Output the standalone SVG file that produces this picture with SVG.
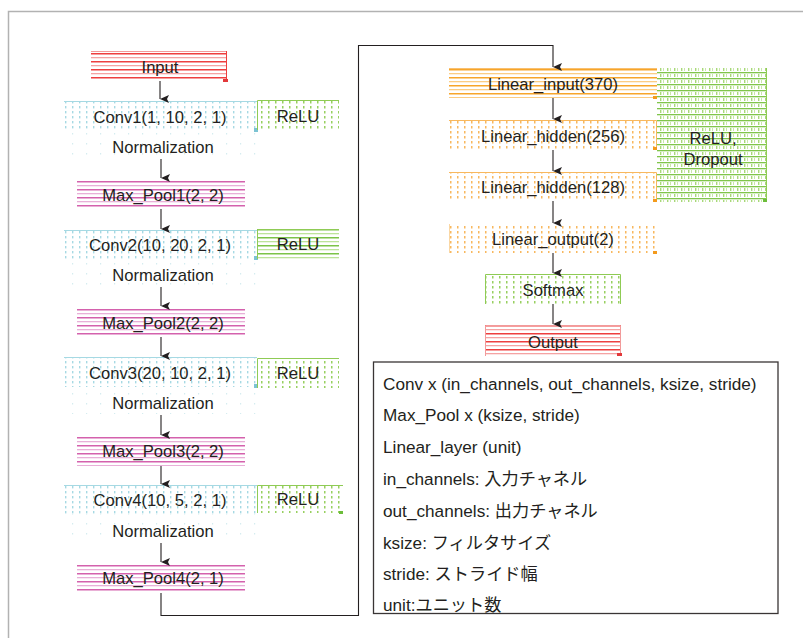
<svg xmlns="http://www.w3.org/2000/svg" width="803" height="638" viewBox="0 0 803 638">
<style>
text{font-family:"Liberation Sans","Noto Sans CJK JP",sans-serif;font-size:16.6px;fill:#231f20}
.c{text-anchor:middle}
.lg{font-size:17.2px}
.conn{fill:none;stroke:#231f20;stroke-width:1.1}
</style>
<defs>
<marker id="ah" markerUnits="userSpaceOnUse" markerWidth="8" markerHeight="9" refX="4" refY="9" orient="auto" viewBox="0 0 8 9">
<path d="M0,0 L4,2 L8,0 L4,9 z" fill="#231f20"/>
</marker>
<pattern id="pRed" width="6" height="8" patternUnits="userSpaceOnUse">
<rect y="1" width="6" height="1.3" fill="#f5a3a3"/>
<rect y="5" width="6" height="1.5" fill="#ee3e3e"/>
</pattern>
<pattern id="pMag" width="6" height="8" patternUnits="userSpaceOnUse">
<rect y="1" width="6" height="1.3" fill="#e8b0d8"/>
<rect y="5" width="6" height="1.5" fill="#d461ad"/>
</pattern>
<pattern id="pOrS" width="6" height="8" patternUnits="userSpaceOnUse">
<rect y="1" width="6" height="1.3" fill="#fbcd85"/>
<rect y="5" width="6" height="1.5" fill="#f7a52a"/>
</pattern>
<pattern id="pGrS" width="6" height="8" patternUnits="userSpaceOnUse">
<rect y="1" width="6" height="1.3" fill="#bde39a"/>
<rect y="5" width="6" height="1.5" fill="#7cc348"/>
</pattern>
<pattern id="pBlueD" width="7" height="5" patternUnits="userSpaceOnUse">
<rect x="2" y="1" width="1.4" height="2.4" fill="#a6d9e3"/>
</pattern>
<pattern id="pFaint" width="14" height="10" patternUnits="userSpaceOnUse">
<rect x="2" y="3" width="1.2" height="1.5" fill="#d5ecf0"/>
</pattern>
<pattern id="pGrD" width="7" height="5" patternUnits="userSpaceOnUse">
<rect x="2" y="1" width="1.5" height="2.5" fill="#98d060"/>
</pattern>
<pattern id="pOrD" width="7" height="5" patternUnits="userSpaceOnUse">
<rect x="2" y="1" width="1.5" height="2.5" fill="#f8b85e"/>
</pattern>
<pattern id="pGrid" width="7" height="6" patternUnits="userSpaceOnUse">
<rect y="0" width="7" height="1.3" fill="#80c54a"/>
<rect x="2" y="2" width="1.4" height="3" fill="#a8d878"/>
<rect x="5" y="2" width="1" height="3" fill="#c8e8a8"/>
</pattern>
</defs>

<rect x="8.5" y="11.5" width="900" height="700" fill="#fff" stroke="#b2b2b2" stroke-width="1.5"/>

<g id="input">
<rect x="91" y="51" width="136" height="30" fill="url(#pRed)"/>
<line x1="91" y1="51.5" x2="227" y2="51.5" stroke="#f29a9a"/>
<line x1="226.5" y1="51" x2="226.5" y2="81" stroke="#ee3e3e"/>
<rect x="223" y="79" width="5" height="3" fill="#e2383a"/>
<text class="c" x="160" y="72.5">Input</text>
</g>

<g id="conv1">
<rect x="64" y="101" width="193" height="30" fill="url(#pBlueD)"/>
<line x1="64" y1="101.5" x2="257" y2="101.5" stroke="#a6d9e3"/>
<rect x="254" y="128" width="4" height="4" fill="#7cc3d3"/>
<text class="c" x="160" y="122.5">Conv1(1, 10, 2, 1)</text>
</g>
<g id="relu1">
<rect x="257" y="100" width="82" height="30" fill="url(#pGrD)"/>
<path d="M257.5,130 V100.5 H339" fill="none" stroke="#8fcb55"/>
<text class="c" x="298" y="121.5">ReLU</text>
</g>
<g id="norm1">
<rect x="64" y="131" width="193" height="26" fill="url(#pFaint)"/>
<text class="c" x="163" y="152.5">Normalization</text>
</g>
<g id="maxpool1">
<rect x="77" y="179" width="168" height="30" fill="url(#pMag)"/>
<text class="c" x="163" y="200.5">Max_Pool1(2, 2)</text>
</g>

<g id="conv2">
<rect x="64" y="230" width="193" height="29" fill="url(#pBlueD)"/>
<line x1="64" y1="230.5" x2="257" y2="230.5" stroke="#a6d9e3"/>
<rect x="254" y="256" width="4" height="4" fill="#7cc3d3"/>
<text class="c" x="160" y="251">Conv2(10, 20, 2, 1)</text>
</g>
<g id="relu2">
<rect x="257" y="229" width="82" height="30" fill="url(#pGrS)"/>
<path d="M257.5,259 V229.5 H339" fill="none" stroke="#8fcb55"/>
<text class="c" x="298" y="250">ReLU</text>
</g>
<g id="norm2">
<rect x="64" y="259" width="193" height="27" fill="url(#pFaint)"/>
<text class="c" x="163" y="280.5">Normalization</text>
</g>
<g id="maxpool2">
<rect x="77" y="307" width="168" height="30" fill="url(#pMag)"/>
<text class="c" x="163" y="328.5">Max_Pool2(2, 2)</text>
</g>

<g id="conv3">
<rect x="64" y="357" width="193" height="30" fill="url(#pBlueD)"/>
<line x1="64" y1="357.5" x2="257" y2="357.5" stroke="#a6d9e3"/>
<rect x="254" y="384" width="4" height="4" fill="#7cc3d3"/>
<text class="c" x="160" y="378.5">Conv3(20, 10, 2, 1)</text>
</g>
<g id="relu3">
<rect x="257" y="358" width="82" height="30" fill="url(#pGrD)"/>
<path d="M257.5,388 V358.5 H339" fill="none" stroke="#8fcb55"/>
<text class="c" x="298" y="379">ReLU</text>
</g>
<g id="norm3">
<rect x="64" y="387" width="193" height="27" fill="url(#pFaint)"/>
<text class="c" x="163" y="408.5">Normalization</text>
</g>
<g id="maxpool3">
<rect x="77" y="436" width="168" height="30" fill="url(#pMag)"/>
<text class="c" x="163" y="456.5">Max_Pool3(2, 2)</text>
</g>

<g id="conv4">
<rect x="64" y="485" width="193" height="29" fill="url(#pBlueD)"/>
<line x1="64" y1="485.5" x2="257" y2="485.5" stroke="#a6d9e3"/>
<text class="c" x="160" y="506">Conv4(10, 5, 2, 1)</text>
</g>
<g id="relu4">
<rect x="257" y="485" width="86" height="28" fill="url(#pGrD)"/>
<path d="M257.5,513 V485.5 H343" fill="none" stroke="#8fcb55"/>
<rect x="339" y="511" width="4" height="3" fill="#6cbd3a"/>
<text class="c" x="298" y="505">ReLU</text>
</g>
<g id="norm4">
<rect x="64" y="514" width="193" height="29" fill="url(#pFaint)"/>
<text class="c" x="163" y="536.5">Normalization</text>
</g>
<g id="maxpool4">
<rect x="77" y="563" width="168" height="30" fill="url(#pMag)"/>
<text class="c" x="163" y="583.5">Max_Pool4(2, 1)</text>
</g>

<g id="linear_input">
<rect x="449" y="68" width="208" height="30" fill="url(#pOrS)"/>
<line x1="449" y1="68.5" x2="657" y2="68.5" stroke="#f9c070"/>
<rect x="653" y="96" width="4" height="3" fill="#f39a1c"/>
<text class="c" x="553" y="89.5">Linear_input(370)</text>
</g>
<g id="relu_dropout">
<rect x="657" y="68" width="110" height="134" fill="url(#pGrid)"/>
<line x1="766.5" y1="68" x2="766.5" y2="202" stroke="#8fcb55"/>
<rect x="763" y="199" width="4" height="3" fill="#6cbd3a"/>
<text class="c" x="713" y="143.5">ReLU,</text>
<text class="c" x="713" y="164.5">Dropout</text>
</g>
<g id="linear_hidden256">
<rect x="449" y="120" width="208" height="29" fill="url(#pOrD)"/>
<path d="M449,120.5 H656.5 V149" fill="none" stroke="#f8b85e"/>
<rect x="653" y="147" width="4" height="3" fill="#f39a1c"/>
<text class="c" x="553" y="141.5">Linear_hidden(256)</text>
</g>
<g id="linear_hidden128">
<rect x="449" y="172" width="208" height="29" fill="url(#pOrD)"/>
<path d="M449,172.5 H656.5 V201" fill="none" stroke="#f8b85e"/>
<rect x="653" y="199" width="4" height="3" fill="#f39a1c"/>
<text class="c" x="553" y="193">Linear_hidden(128)</text>
</g>
<g id="linear_output">
<rect x="449" y="224" width="208" height="29" fill="url(#pOrD)"/>
<line x1="449.5" y1="224" x2="449.5" y2="253" stroke="#fad7a4"/>
<rect x="653" y="251" width="4" height="3" fill="#f39a1c"/>
<text class="c" x="553" y="245">Linear_output(2)</text>
</g>
<g id="softmax">
<rect x="485" y="274" width="136" height="30" fill="url(#pGrD)"/>
<path d="M485.5,304 V274.5 H620.5 V304" fill="none" stroke="#8fcb55"/>
<text class="c" x="553" y="295.5">Softmax</text>
</g>
<g id="output">
<rect x="485" y="325" width="136" height="31" fill="url(#pRed)"/>
<path d="M485.5,356 V325.5 H620.5 V356" fill="none" stroke="#f29a9a"/>
<rect x="617" y="353" width="5" height="3" fill="#e2383a"/>
<text class="c" x="553" y="347.5">Output</text>
</g>

<g id="legend">
<rect x="373.5" y="362" width="404.5" height="251.5" fill="#fff" stroke="#3a3535" stroke-width="1.3"/>
<text class="lg" x="383" y="389.5">Conv x (in_channels, out_channels, ksize, stride)</text>
<text class="lg" x="383" y="421">Max_Pool x (ksize, stride)</text>
<text class="lg" x="383" y="453">Linear_layer (unit)</text>
<text class="lg" x="383" y="485">in_channels: 入力チャネル</text>
<text class="lg" x="383" y="517">out_channels: 出力チャネル</text>
<text class="lg" x="383" y="548.5">ksize: フィルタサイズ</text>
<text class="lg" x="383" y="580">stride: ストライド幅</text>
<text class="lg" x="383" y="611">unit:ユニット数</text>
</g>

<g id="connectors">
<path class="conn" d="M160,81 V99"  marker-end="url(#ah)"/>
<path class="conn" d="M161,159 V178" marker-end="url(#ah)"/>
<path class="conn" d="M161,209 V229" marker-end="url(#ah)"/>
<path class="conn" d="M161,287 V306" marker-end="url(#ah)"/>
<path class="conn" d="M161,337 V356" marker-end="url(#ah)"/>
<path class="conn" d="M161,415 V435" marker-end="url(#ah)"/>
<path class="conn" d="M161,466 V484" marker-end="url(#ah)"/>
<path class="conn" d="M161,543 V562" marker-end="url(#ah)"/>
<path class="conn" d="M161,593 V615.5 H358.5 V45.5 H553 V67" marker-end="url(#ah)"/>
<path class="conn" d="M553,98 V119" marker-end="url(#ah)"/>
<path class="conn" d="M553,150 V171" marker-end="url(#ah)"/>
<path class="conn" d="M553,201 V223" marker-end="url(#ah)"/>
<path class="conn" d="M553,253 V273" marker-end="url(#ah)"/>
<path class="conn" d="M553,304 V324" marker-end="url(#ah)"/>
</g>
</svg>
